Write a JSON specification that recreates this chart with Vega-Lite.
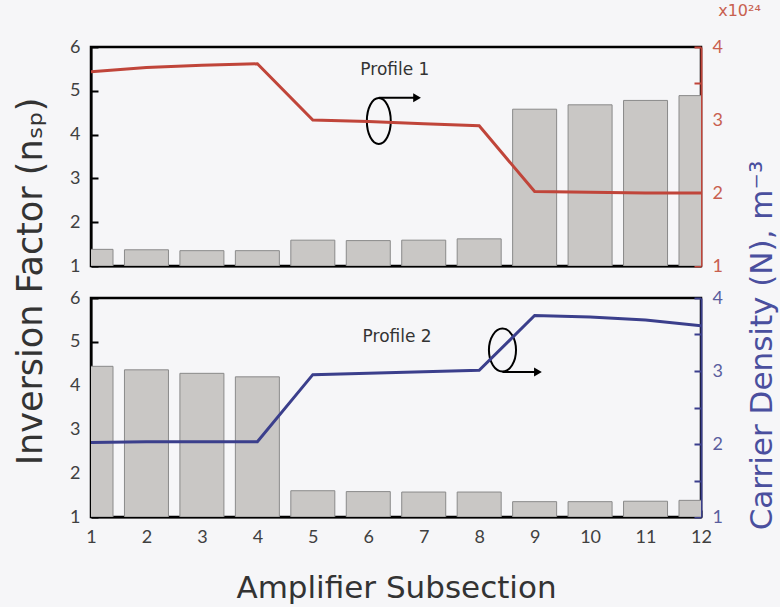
{
  "$schema": "https://vega.github.io/schema/vega-lite/v6.json",
  "autosize": {"type": "none"},
  "padding": {"left": 91, "top": 47, "right": 700, "bottom": 600},
  "background": "#f6f6f8",
  "bounds": "flush",
  "spacing": 32,
  "datasets": {
    "profile1": [
      {"subsection": 1, "nsp": 1.38, "density": 3.66},
      {"subsection": 2, "nsp": 1.37, "density": 3.72},
      {"subsection": 3, "nsp": 1.35, "density": 3.75},
      {"subsection": 4, "nsp": 1.35, "density": 3.77},
      {"subsection": 5, "nsp": 1.59, "density": 3.0},
      {"subsection": 6, "nsp": 1.58, "density": 2.98},
      {"subsection": 7, "nsp": 1.59, "density": 2.95},
      {"subsection": 8, "nsp": 1.62, "density": 2.92},
      {"subsection": 9, "nsp": 4.58, "density": 2.02},
      {"subsection": 10, "nsp": 4.68, "density": 2.01},
      {"subsection": 11, "nsp": 4.78, "density": 2.0},
      {"subsection": 12, "nsp": 4.89, "density": 2.0}
    ],
    "profile2": [
      {"subsection": 1, "nsp": 4.44, "density": 2.02},
      {"subsection": 2, "nsp": 4.36, "density": 2.03},
      {"subsection": 3, "nsp": 4.28, "density": 2.03},
      {"subsection": 4, "nsp": 4.2, "density": 2.03},
      {"subsection": 5, "nsp": 1.6, "density": 2.95},
      {"subsection": 6, "nsp": 1.58, "density": 2.97},
      {"subsection": 7, "nsp": 1.57, "density": 2.99},
      {"subsection": 8, "nsp": 1.57, "density": 3.01},
      {"subsection": 9, "nsp": 1.35, "density": 3.76},
      {"subsection": 10, "nsp": 1.35, "density": 3.74},
      {"subsection": 11, "nsp": 1.36, "density": 3.7},
      {"subsection": 12, "nsp": 1.38, "density": 3.62}
    ]
  },
  "config": {
    "view": {"stroke": "black", "strokeWidth": 2.5},
    "font": "DejaVu Sans",
    "axis": {
      "grid": false,
      "labelFont": "Lato",
      "labelFontSize": 18,
      "labelColor": "#404040",
      "labelFlush": false,
      "labelOverlap": false,
      "titleFont": "DejaVu Sans",
      "titleFontWeight": "normal",
      "titleColor": "#333333",
      "domainColor": "black",
      "domainWidth": 2,
      "tickColor": "black",
      "tickWidth": 2,
      "tickSize": -7,
      "labelPadding": 18
    }
  },
  "vconcat": [
    {
      "width": 610,
      "height": 219,
      "layer": [
        {
          "layer": [
            {
              "data": {"name": "profile1"},
              "mark": {"type": "bar", "width": 44, "fill": "#c9c7c5", "stroke": "#8a8a8a", "strokeWidth": 1, "clip": true},
              "encoding": {
                "x": {"field": "subsection", "type": "quantitative", "scale": {"domain": [1, 12], "nice": false, "padding": 0},
                      "axis": {"orient": "bottom", "labels": false, "ticks": false, "title": null}},
                "y": {"field": "nsp", "type": "quantitative", "scale": {"domain": [1, 6], "nice": false, "zero": false},
                      "axis": {"values": [1, 2, 3, 4, 5, 6], "format": "d", "title": "Inversion Factor (nₛₚ)",
                               "titleFontSize": 35, "titleAngle": -90, "titleX": -50, "titleY": 234,
                               "titleAlign": "center", "titleBaseline": "alphabetic"}},
                "y2": {"datum": 1}
              }
            },
            {
              "data": {"values": [{"x": 6.19, "y": 4.31}]},
              "mark": {"type": "point", "shape": "M0,-1C0.287,-1 0.52,-0.552 0.52,0C0.52,0.552 0.287,1 0,1C-0.287,1 -0.52,0.552 -0.52,0C-0.52,-0.552 -0.287,-1 0,-1Z",
                       "size": 2116, "filled": false, "stroke": "black", "strokeWidth": 2, "opacity": 1},
              "encoding": {
                "x": {"field": "x", "type": "quantitative"},
                "y": {"field": "y", "type": "quantitative"}
              }
            },
            {
              "data": {"values": [{"x": 6.19, "x2": 6.9, "y": 4.84}]},
              "mark": {"type": "rule", "stroke": "black", "strokeWidth": 2},
              "encoding": {
                "x": {"field": "x", "type": "quantitative"},
                "x2": {"field": "x2"},
                "y": {"field": "y", "type": "quantitative"}
              }
            },
            {
              "data": {"values": [{"x": 6.88, "y": 4.84}]},
              "mark": {"type": "point", "shape": "triangle-right", "size": 80, "filled": true, "color": "black", "opacity": 1},
              "encoding": {
                "x": {"field": "x", "type": "quantitative"},
                "y": {"field": "y", "type": "quantitative"}
              }
            },
            {
              "data": {"values": [{"x": 6.48, "y": 5.47, "label": "Profile 1"}]},
              "mark": {"type": "text", "fontSize": 17, "color": "#333333", "font": "DejaVu Sans"},
              "encoding": {
                "x": {"field": "x", "type": "quantitative"},
                "y": {"field": "y", "type": "quantitative"},
                "text": {"field": "label"}
              }
            }
          ]
        },
        {
          "data": {"name": "profile1"},
          "mark": {"type": "line", "color": "#c0453a", "strokeWidth": 3, "clip": true},
          "encoding": {
            "x": {"field": "subsection", "type": "quantitative"},
            "y": {"field": "density", "type": "quantitative", "scale": {"domain": [1, 4], "nice": false, "zero": false},
                  "axis": {"orient": "right", "values": [1, 1.5, 2, 2.5, 3, 3.5, 4],
                           "labelExpr": "datum.value % 1 === 0 ? format(datum.value, 'd') : ''",
                           "domainColor": "#c0453a", "tickColor": "#c0453a", "labelColor": "#c8604f",
                           "title": "x10²⁴", "titleAngle": 0, "titleX": 38, "titleY": -32,
                           "titleAlign": "center", "titleBaseline": "alphabetic", "titleColor": "#c8604f", "titleFontSize": 16}}
          }
        }
      ],
      "resolve": {"scale": {"y": "independent"}}
    },
    {
      "width": 610,
      "height": 219,
      "layer": [
        {
          "layer": [
            {
              "data": {"name": "profile2"},
              "mark": {"type": "bar", "width": 44, "fill": "#c9c7c5", "stroke": "#8a8a8a", "strokeWidth": 1, "clip": true},
              "encoding": {
                "x": {"field": "subsection", "type": "quantitative", "scale": {"domain": [1, 12], "nice": false, "padding": 0},
                      "axis": {"orient": "bottom", "values": [1, 2, 3, 4, 5, 6, 7, 8, 9, 10, 11, 12], "format": "d",
                               "labelFlush": false, "labelAlign": "center",
                               "title": "Amplifier Subsection", "titleFontSize": 31, "titleY": 80, "titleBaseline": "alphabetic"}},
                "y": {"field": "nsp", "type": "quantitative", "scale": {"domain": [1, 6], "nice": false, "zero": false},
                      "axis": {"values": [1, 2, 3, 4, 5, 6], "format": "d", "title": null}},
                "y2": {"datum": 1}
              }
            },
            {
              "data": {"values": [{"x": 8.42, "y": 4.81}]},
              "mark": {"type": "point", "shape": "M0,-1C0.348,-1 0.63,-0.552 0.63,0C0.63,0.552 0.348,1 0,1C-0.348,1 -0.63,0.552 -0.63,0C-0.63,-0.552 -0.348,-1 0,-1Z",
                       "size": 1849, "filled": false, "stroke": "black", "strokeWidth": 2, "opacity": 1},
              "encoding": {
                "x": {"field": "x", "type": "quantitative"},
                "y": {"field": "y", "type": "quantitative"}
              }
            },
            {
              "data": {"values": [{"x": 8.42, "x2": 9.08, "y": 4.31}]},
              "mark": {"type": "rule", "stroke": "black", "strokeWidth": 2},
              "encoding": {
                "x": {"field": "x", "type": "quantitative"},
                "x2": {"field": "x2"},
                "y": {"field": "y", "type": "quantitative"}
              }
            },
            {
              "data": {"values": [{"x": 9.06, "y": 4.31}]},
              "mark": {"type": "point", "shape": "triangle-right", "size": 80, "filled": true, "color": "black", "opacity": 1},
              "encoding": {
                "x": {"field": "x", "type": "quantitative"},
                "y": {"field": "y", "type": "quantitative"}
              }
            },
            {
              "data": {"values": [{"x": 6.52, "y": 5.11, "label": "Profile 2"}]},
              "mark": {"type": "text", "fontSize": 17, "color": "#333333", "font": "DejaVu Sans"},
              "encoding": {
                "x": {"field": "x", "type": "quantitative"},
                "y": {"field": "y", "type": "quantitative"},
                "text": {"field": "label"}
              }
            }
          ]
        },
        {
          "data": {"name": "profile2"},
          "mark": {"type": "line", "color": "#3b3f8c", "strokeWidth": 3, "clip": true},
          "encoding": {
            "x": {"field": "subsection", "type": "quantitative"},
            "y": {"field": "density", "type": "quantitative", "scale": {"domain": [1, 4], "nice": false, "zero": false},
                  "axis": {"orient": "right", "values": [1, 1.5, 2, 2.5, 3, 3.5, 4],
                           "labelExpr": "datum.value % 1 === 0 ? format(datum.value, 'd') : ''",
                           "domainColor": "#3b3f8c", "tickColor": "#3b3f8c", "labelColor": "#5a5e9e",
                           "title": "Carrier Density (N), m⁻³", "titleAngle": -90, "titleX": 70, "titleY": 47,
                           "titleAlign": "center", "titleBaseline": "alphabetic", "titleColor": "#4a4f9e", "titleFontSize": 31}}
          }
        }
      ],
      "resolve": {"scale": {"y": "independent"}}
    }
  ]
}
